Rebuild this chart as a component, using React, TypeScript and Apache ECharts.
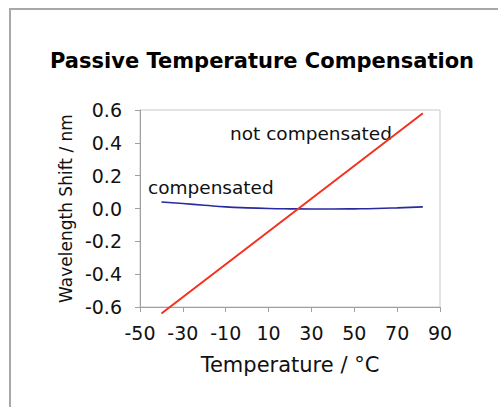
import React, { useEffect, useRef } from "react";
import * as echarts from "echarts";

const titleText = "Passive Temperature Compensation";
const xName = "Temperature / °C";
const yName = "Wavelength Shift / nm";

const notCompTemps = [-40, 24, 82];
const notCompShift = [-0.64, 0, 0.58];

const compTemps = [-40, -30, -20, -10, 0, 10, 20, 30, 40, 50, 60, 70, 82];
const compShift = [0.04, 0.03, 0.02, 0.01, 0.004, 0, -0.002, -0.003, -0.003, -0.002, 0, 0.004, 0.01];

const labelComp = "compensated";
const labelNotComp = "not compensated";

const FONT = "DejaVu Sans";

export default function App() {
  const ref = useRef<HTMLDivElement>(null);
  useEffect(() => {
    if (!ref.current) return;
    const chart = echarts.init(ref.current, null, { renderer: "svg" });
    chart.setOption({
      animation: false,
      backgroundColor: "#ffffff",
      title: {
        text: titleText,
        left: 45,
        top: 45,
        textStyle: { fontFamily: FONT, fontWeight: "bold", fontSize: 21, color: "#000" },
      },
      grid: {
        left: 140,
        right: 58,
        top: 110,
        bottom: 100,
        show: true,
        borderColor: "#c8c8c8",
        borderWidth: 1,
        backgroundColor: "transparent",
      },
      xAxis: {
        type: "value",
        min: -50,
        max: 90,
        interval: 20,
        name: xName,
        nameLocation: "middle",
        nameGap: 47,
        nameTextStyle: { fontFamily: FONT, fontSize: 21, color: "#111" },
        axisLine: { show: true, onZero: false, lineStyle: { color: "#a0a0a0", width: 1 } },
        axisTick: { show: true, length: 5, lineStyle: { color: "#a0a0a0" } },
        splitLine: { show: false },
        axisLabel: { fontFamily: FONT, fontSize: 19, color: "#111", margin: 16 },
      },
      yAxis: {
        type: "value",
        min: -0.6,
        max: 0.6,
        interval: 0.2,
        name: yName,
        nameLocation: "middle",
        nameGap: 62,
        nameTextStyle: { fontFamily: FONT, fontSize: 17, color: "#111" },
        axisLine: { show: true, onZero: false, lineStyle: { color: "#a0a0a0", width: 1 } },
        axisTick: { show: true, length: 5, lineStyle: { color: "#a0a0a0" } },
        splitLine: { show: false },
        axisLabel: {
          fontFamily: FONT,
          fontSize: 19,
          color: "#111",
          margin: 18,
          formatter: (v: number) => (Math.abs(v) < 1e-9 ? "0.0" : v.toFixed(1)),
        },
      },
      series: [
        {
          type: "line",
          name: labelNotComp,
          data: notCompTemps.map((t, i) => [t, notCompShift[i]]),
          showSymbol: false,
          clip: false,
          lineStyle: { color: "#f5301e", width: 2 },
          z: 3,
        },
        {
          type: "line",
          name: labelComp,
          data: compTemps.map((t, i) => [t, compShift[i]]),
          showSymbol: false,
          smooth: true,
          clip: false,
          lineStyle: { color: "#2a2aa0", width: 1.6 },
          z: 2,
        },
      ],
      graphic: [
        {
          type: "rect",
          shape: { x: 10, y: 9, width: 700, height: 700 },
          style: { fill: "none", stroke: "#a8a8a8", lineWidth: 2 },
          z: 0,
        },
        {
          type: "text",
          x: 148,
          y: 187,
          style: {
            text: labelComp,
            fontFamily: FONT,
            fontSize: 18.5,
            fill: "#111",
            textVerticalAlign: "middle",
            verticalAlign: "middle",
          },
        },
        {
          type: "text",
          x: 230,
          y: 133,
          style: {
            text: labelNotComp,
            fontFamily: FONT,
            fontSize: 18.5,
            fill: "#111",
            textVerticalAlign: "middle",
            verticalAlign: "middle",
          },
        },
      ],
    });
    return () => chart.dispose();
  }, []);
  return (
    <div
      ref={ref}
      style={{ position: "fixed", left: 0, top: 0, width: 498, height: 407 }}
    />
  );
}
